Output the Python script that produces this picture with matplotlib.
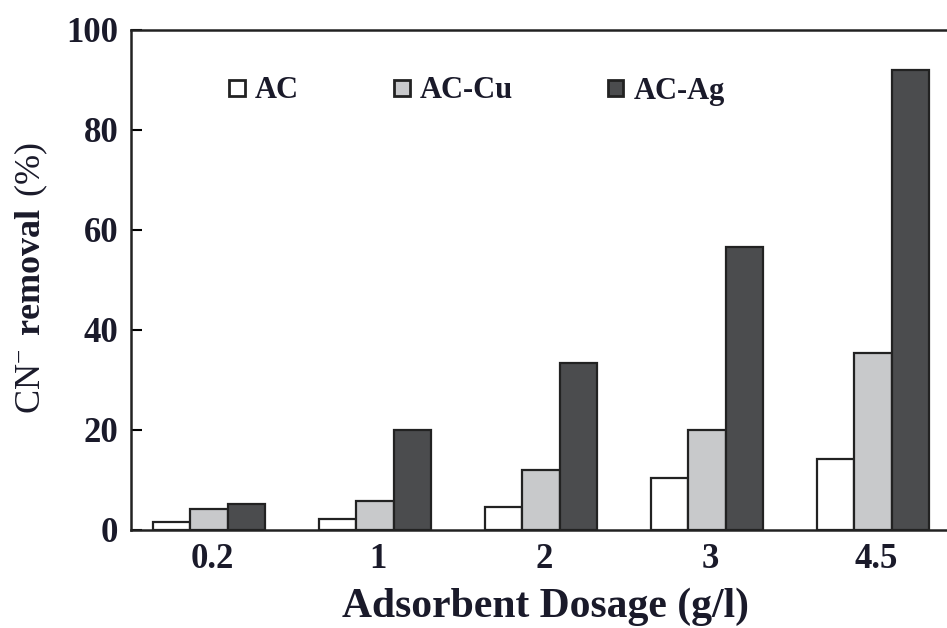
import matplotlib
matplotlib.use("Agg")
import matplotlib.pyplot as plt
import numpy as np

dosages = ["0.2", "1", "2", "3", "4.5"]
series_names = ["AC", "AC-Cu", "AC-Ag"]
ac = [1.6, 2.2, 4.7, 10.5, 14.2]
ac_cu = [4.2, 5.8, 12.0, 20.0, 35.4]
ac_ag = [5.2, 20.0, 33.4, 56.6, 92.0]
yticks = [0, 20, 40, 60, 80, 100]

plt.rcParams["font.family"] = ["Liberation Serif", "DejaVu Serif"]
plt.rcParams["font.weight"] = "bold"
plt.rcParams["mathtext.fontset"] = "custom"
plt.rcParams["mathtext.rm"] = "Liberation Serif:weight=normal"
plt.rcParams["mathtext.bf"] = "Liberation Serif:weight=bold"
plt.rcParams["mathtext.default"] = "rm"

fig = plt.figure(figsize=(9.47, 6.28), dpi=100)
ax = fig.add_axes([131 / 947, 1 - 530 / 628, 830 / 947, 500 / 628])

x = np.arange(len(dosages))
w = 0.225
colors = ["#ffffff", "#c8c9cb", "#4b4c4e"]
for i, (vals, name) in enumerate(zip([ac, ac_cu, ac_ag], series_names)):
    ax.bar(x + (i - 1) * w - 0.02, vals, width=w, color=colors[i],
           edgecolor="#222222", linewidth=1.6, label=name, zorder=2)

ax.set_xlim(-0.49, 4.51)
ax.set_ylim(0, 100)
ax.set_yticks(yticks)
ax.set_xticks(x)
ax.set_xticklabels(dosages)
ax.tick_params(axis="y", direction="in", length=8, width=1.5, labelsize=25, pad=9)
ax.tick_params(axis="x", length=0, labelsize=25, pad=9)
text_color = "#1a1a2a"
for lab in ax.get_xticklabels() + ax.get_yticklabels():
    lab.set_fontweight("bold")
    lab.set_color(text_color)
for s in ax.spines.values():
    s.set_linewidth(1.8)
    s.set_color("#222222")

ax.set_xlabel("Adsorbent Dosage (g/l)", fontsize=30, fontweight="bold",
              color=text_color, labelpad=9)
ax.set_ylabel(r"$\mathrm{CN}^{-}\ \mathbf{removal}\ \mathrm{(\%)}$",
              fontsize=26, color=text_color)
ax.yaxis.set_label_coords(-0.0976, 0.504)

leg = ax.legend(ncol=3, frameon=False, loc="upper left",
                bbox_to_anchor=((229 - 131) / 830, 0.907), fontsize=22,
                borderpad=0, borderaxespad=0,
                handlelength=0.52, handleheight=0.43, handletextpad=0.33,
                columnspacing=3.1)
for t in leg.get_texts():
    t.set_fontweight("bold")
    t.set_color(text_color)
for h in leg.legend_handles:
    h.set_linewidth(2)

fig.savefig("out.png", dpi=100)
